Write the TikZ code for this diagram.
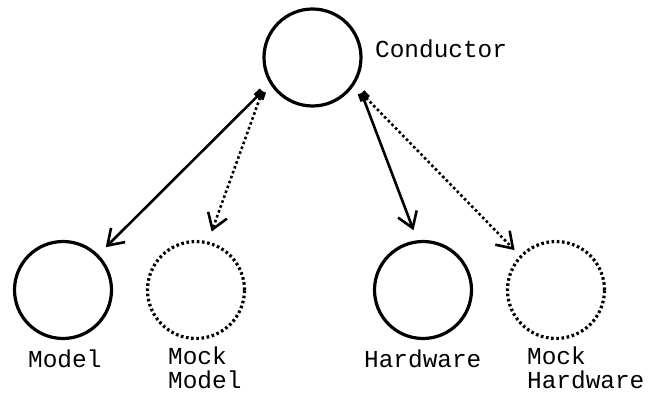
\documentclass[tikz,border=0pt]{standalone}
\usepackage{fontspec}
\setmonofont{Liberation Mono}
\usetikzlibrary{arrows.meta}
\begin{document}
\begin{tikzpicture}[x=1pt,y=-1pt,
  unit/.style={circle, draw, line width=3.2pt, minimum size=97pt, inner sep=0pt, outer sep=12pt},
  mock/.style={unit, dash pattern=on 2.6pt off 2.6pt},
  lbl/.style={font=\ttfamily\fontsize{24.4}{24}\selectfont, anchor=base west, inner sep=0pt, align=left},
  link/.style={line width=2.6pt, {Square[length=8pt,width=8pt]}-{Straight Barb[length=15pt,width=20pt]}},
  mocklink/.style={link, dash pattern=on 2.6pt off 2.6pt}]
\useasboundingbox (0,0) rectangle (649,395);

% components
\node[unit] (cond) at (312.5,57.5) {};
\node[unit] (model) at (63,290) {};
\node[mock] (mockmodel) at (196,290) {};
\node[unit] (hw) at (423,290) {};
\node[mock] (mockhw) at (556,290) {};

% names (two-line names are placed by the baseline of their last line)
\node[lbl] (lcond) at (375,58) {Conductor};
\node[lbl] (lmodel) at (28,368) {Model};
\node[lbl] (lmockmodel) at (168,389) {Mock\\Model};
\node[lbl] (lhw) at (364,368) {Hardware};
\node[lbl] (lmockhw) at (527,389) {Mock\\Hardware};

% links from the conductor
\draw[link] (cond.214) -- (model.45);
\draw[mocklink] (cond.214) -- (mockmodel.75);
\draw[link] (cond.324) -- (hw.99);
\draw[mocklink, shorten >=-3pt] (cond.324) -- (mockhw.136);
\end{tikzpicture}
\end{document}
